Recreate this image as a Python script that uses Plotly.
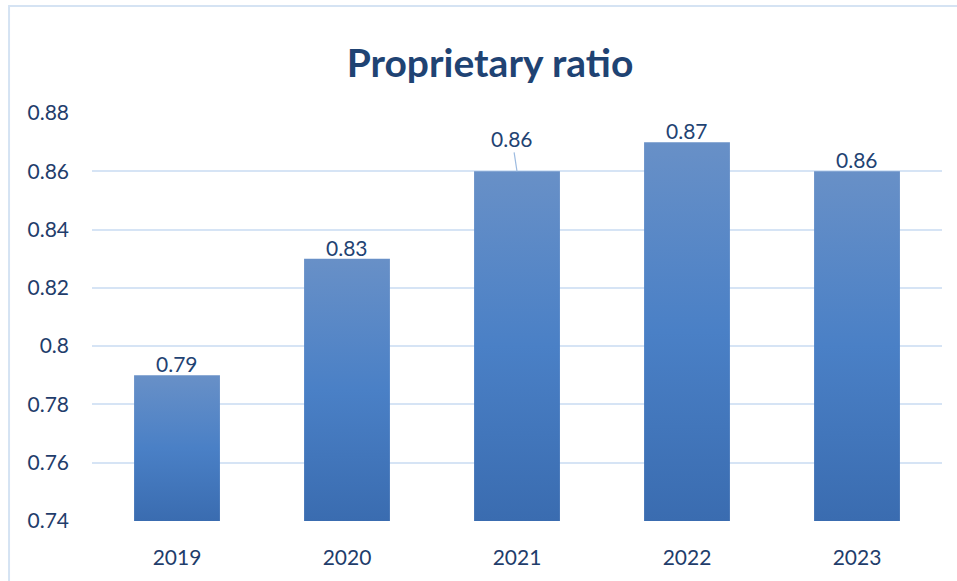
import plotly.graph_objects as go

years = ["2019", "2020", "2021", "2022", "2023"]
values = [0.79, 0.83, 0.86, 0.87, 0.86]
y_ticks = [0.74, 0.76, 0.78, 0.80, 0.82, 0.84, 0.86, 0.88]
y_tick_text = ["0.74", "0.76", "0.78", "0.8", "0.82", "0.84", "0.86", "0.88"]
base = 0.74
bar_width = 0.505

fig = go.Figure()

for i, (yr, v) in enumerate(zip(years, values)):
    x0, x1 = i - bar_width / 2, i + bar_width / 2
    fig.add_trace(go.Scatter(
        x=[x0, x1, x1, x0, x0],
        y=[base, base, v, v, base],
        mode="lines",
        line=dict(width=0),
        fill="toself",
        fillgradient=dict(
            type="vertical",
            colorscale=[[0, "#3A6CB0"], [0.5, "#4A80C6"], [1, "#6890C7"]],
        ),
        hoverinfo="x+y",
        showlegend=False,
    ))

FONT = "Lato, 'Open Sans', sans-serif"
label_font = dict(family=FONT, size=21, color="#1F4373")
for i, v in enumerate(values):
    if years[i] == "2021":
        fig.add_annotation(
            x=i, y=v, text=f"{v:.2f}", showarrow=True, arrowhead=0,
            arrowwidth=1.2, arrowcolor="#9DBBE0", ax=-5, ay=-33,
            standoff=0, font=label_font,
        )
    else:
        fig.add_annotation(
            x=i, y=v, text=f"{v:.2f}", showarrow=False, yanchor="bottom",
            yshift=-3, font=label_font,
        )

# outer chart frame
fig.add_shape(type="rect", xref="paper", yref="paper",
              x0=-0.0976, x1=1.1, y0=-0.3, y1=1.262,
              line=dict(color="#D5E3F3", width=2), fillcolor="rgba(0,0,0,0)",
              layer="below")

fig.update_layout(
    width=957, height=581,
    paper_bgcolor="white", plot_bgcolor="white",
    margin=dict(l=92, r=15, t=113, b=60),
    title=dict(text="<b>Proprietary ratio</b>", x=0.512, xref="container",
               xanchor="center", y=0.891, yref="container", yanchor="middle",
               font=dict(family=FONT, size=39, color="#1F4373")),
    xaxis=dict(
        range=[-0.5, 4.5], tickmode="array", tickvals=list(range(len(years))),
        ticktext=years, showgrid=False, zeroline=False, showline=False,
        ticks="", ticklabelstandoff=22,
        tickfont=dict(family=FONT, size=21, color="#1F3D6B"),
    ),
    yaxis=dict(
        range=[0.74, 0.88], tickmode="array", tickvals=y_ticks, ticktext=y_tick_text,
        showgrid=True, gridcolor="#D6E4F5", gridwidth=2, zeroline=False,
        showline=False, ticks="", ticklabelstandoff=22,
        tickfont=dict(family=FONT, size=21, color="#1F3D6B"),
    ),
)

fig.write_html("out.html")
